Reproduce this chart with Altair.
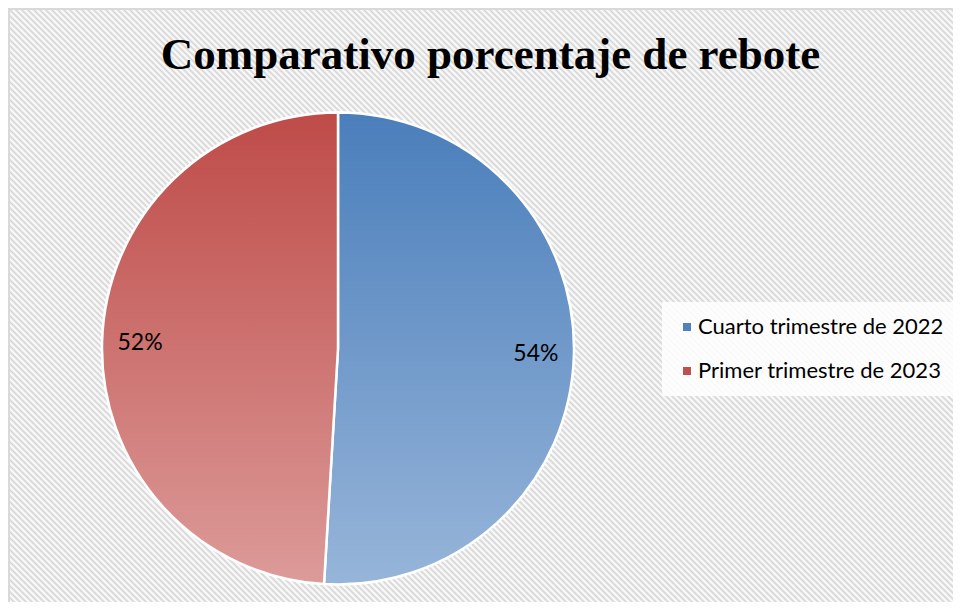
import altair as alt
import pandas as pd

# ---- data ----
categories = ["Cuarto trimestre de 2022", "Primer trimestre de 2023"]
values = [54, 52]
order_idx = [0, 1]
title_text = "Comparativo porcentaje de rebote"

df = pd.DataFrame({"cat": categories, "value": values, "idx": order_idx})

# ---- styles ----
W, H, PAD_TOP = 945, 510, 84
CX, CY, R = 330, 256.5, 236

grad_blue = {"gradient": "linear", "x1": 0, "y1": 0, "x2": 0, "y2": 1,
             "stops": [{"offset": 0, "color": "#4a7ebb"},
                       {"offset": 1, "color": "#97b5d9"}]}
grad_red = {"gradient": "linear", "x1": 0, "y1": 0, "x2": 0, "y2": 1,
            "stops": [{"offset": 0, "color": "#be4b48"},
                      {"offset": 1, "color": "#dc9b99"}]}

# diagonal hatch background as a many-stop gradient (decoration only)
n_periods = 315
stops = []
for i in range(n_periods):
    stops.append({"offset": i / n_periods, "color": "#ffffff"})
    stops.append({"offset": (i + 0.5) / n_periods, "color": "#d6d6d6"})
stops.append({"offset": 1, "color": "#ffffff"})
hatch = {"gradient": "linear", "x1": 0, "y1": 1, "x2": 1, "y2": 0, "stops": stops}

one = alt.Data(values=[{}])

bg = alt.Chart(one).mark_rect(fill=hatch, strokeWidth=0).encode(
    x=alt.value(0), x2=alt.value(W), y=alt.value(-PAD_TOP), y2=alt.value(-PAD_TOP + W)
)
border = alt.Chart(one).mark_rect(fill=None, fillOpacity=0, stroke="#d9d9d9", strokeWidth=2).encode(
    x=alt.value(1), x2=alt.value(W + 4), y=alt.value(-PAD_TOP + 1), y2=alt.value(H + 4)
)

base = alt.Chart(df)

solid = base.mark_arc(radius=R, stroke="white", strokeWidth=2).encode(
    theta=alt.Theta("value:Q", stack=True),
    order=alt.Order("idx:Q"),
    color=alt.Color(
        "cat:N",
        scale=alt.Scale(domain=categories, range=["#4f81bd", "#c0504d"]),
        legend=alt.Legend(
            title=None, orient="none", legendX=654, legendY=210,
            symbolType="square", symbolSize=64, symbolStrokeWidth=0,
            labelFont="Lato", labelFontSize=22, labelColor="#000000",
            labelLimit=400, rowPadding=22, padding=14,
            fillColor="rgba(255,255,255,0.85)", labelOffset=0,
        ),
    ),
    x=alt.value(CX), y=alt.value(CY),
)

gradient = base.mark_arc(radius=R, stroke="white", strokeWidth=2.5).encode(
    theta=alt.Theta("value:Q", stack=True),
    order=alt.Order("idx:Q"),
    fill=alt.condition(alt.datum.cat == categories[0], alt.value(grad_blue), alt.value(grad_red)),
    x=alt.value(CX), y=alt.value(CY),
)

labels = base.transform_calculate(label="datum.value + '%'").mark_text(
    radius=198, font="Lato", fontSize=23, color="#000000"
).encode(
    theta=alt.Theta("value:Q", stack=True),
    order=alt.Order("idx:Q"),
    text="label:N",
    x=alt.value(CX), y=alt.value(CY),
)

chart = alt.layer(bg, border, solid, gradient, labels).properties(
    width=W, height=H,
    autosize=alt.AutoSizeParams(type="none"),
    padding={"top": PAD_TOP, "left": 0, "right": 0, "bottom": 0},
    title=alt.TitleParams(
        title_text, font="Liberation Serif", fontSize=45, fontWeight="bold",
        color="#000000", anchor="middle", offset=14, dx=10, dy=84, frame="group",
    ),
).configure_view(stroke=None)

chart.save("out.html", embed_options={"renderer": "svg", "actions": False})
